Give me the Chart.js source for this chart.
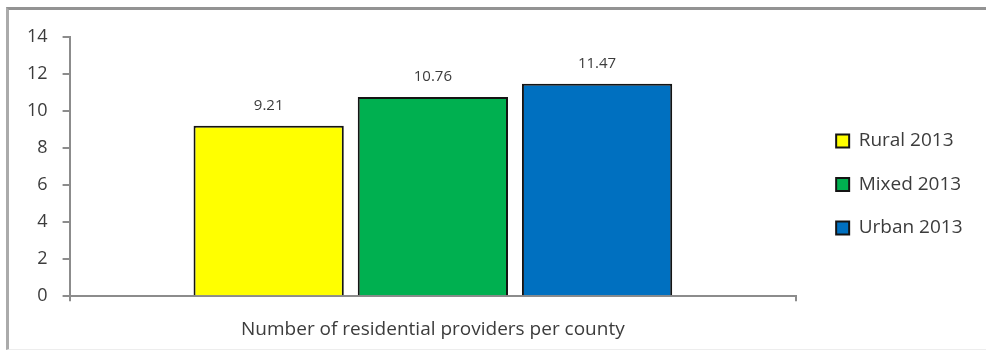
<!DOCTYPE html>
<html>
<head>
<meta charset="utf-8">
<script src="https://cdn.jsdelivr.net/npm/chart.js@4/dist/chart.umd.min.js"></script>
<style>
  body { margin: 0; background: #ffffff; }
  #wrap { position: relative; width: 986px; height: 352px; overflow: hidden; }
  #moldura {
    position: absolute; left: 6px; top: 7px; right: -10px; bottom: 2px;
    border-top: 3px solid #939393; border-left: 3px solid #ababab;
    border-bottom: 1px solid #ededed; pointer-events: none;
  }
</style>
</head>
<body>
<div id="wrap">
  <canvas id="porTipo" width="986" height="352"></canvas>
  <div id="moldura"></div>
</div>
<script>
var categorias = ['Number of residential providers per county'];
var nomesSeries = ['Rural 2013', 'Mixed 2013', 'Urban 2013'];
var valores = [9.21, 10.76, 11.47];
var cores = ['#ffff00', '#00b050', '#0070c0'];
var eixoY = { min: 0, max: 14, passo: 2 };

var corTexto = '#3c3c3c';
var corEixo = '#8c8c8c';
var fonte = "'Open Sans', sans-serif";

// values written above each bar
var rotulosValores = {
    id: 'rotulosValores',
    afterDatasetsDraw: function (chart) {
        var ctx = chart.ctx;
        ctx.save();
        ctx.font = '15px ' + fonte;
        ctx.fillStyle = corTexto;
        ctx.textAlign = 'center';
        ctx.textBaseline = 'middle';
        chart.data.datasets.forEach(function (ds, i) {
            chart.getDatasetMeta(i).data.forEach(function (bar, j) {
                ctx.fillText(ds.data[j].toFixed(2), bar.x, bar.y - 20);
            });
        });
        ctx.restore();
    }
};

// nudge the legend right and up from where the layout puts it
var ajusteLegenda = {
    id: 'ajusteLegenda',
    afterLayout: function (chart) {
        var leg = chart.legend;
        leg.left += 15.5; leg.right += 15.5;
        leg.top -= 13; leg.bottom -= 13;
    }
};

function plotar() {
    var canvas = document.getElementById('porTipo');

    var datasets = nomesSeries.map(function (nome, i) {
        return {
            label: nome,
            data: [valores[i]],
            backgroundColor: cores[i],
            borderColor: '#141414',
            borderWidth: 2,
            categoryPercentage: 0.678,
            barPercentage: 0.915
        };
    });

    var config = {
        type: 'bar',
        data: { labels: categorias, datasets: datasets },
        plugins: [rotulosValores, ajusteLegenda],
        options: {
            responsive: false,
            animation: false,
            layout: { padding: { top: 37, left: 12, right: 29, bottom: -6 } },
            plugins: {
                tooltip: { enabled: false },
                legend: {
                    position: 'right',
                    labels: {
                        boxWidth: 13,
                        boxHeight: 13,
                        padding: 24.5,
                        color: corTexto,
                        font: { family: fonte, size: 19 }
                    }
                }
            },
            scales: {
                x: {
                    grid: { drawOnChartArea: false, tickLength: 5, color: corEixo, lineWidth: 2 },
                    border: { color: corEixo, width: 2 },
                    ticks: { color: corTexto, padding: 17, maxRotation: 0, font: { family: fonte, size: 19 } }
                },
                y: {
                    min: eixoY.min,
                    max: eixoY.max,
                    grid: { drawOnChartArea: false, tickLength: 7, color: corEixo, lineWidth: 2 },
                    border: { color: corEixo, width: 2 },
                    ticks: { stepSize: eixoY.passo, color: corTexto, padding: 15, font: { family: fonte, size: 18 } }
                }
            }
        }
    };

    window.porTipo = new Chart(canvas, config);
}

plotar();
</script>
</body>
</html>
